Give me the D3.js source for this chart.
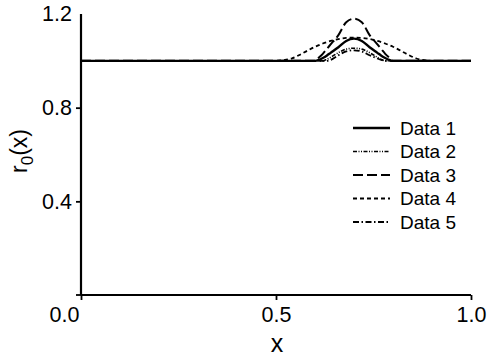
<!DOCTYPE html>
<html>
<head>
<meta charset="utf-8">
<script src="https://cdn.jsdelivr.net/npm/d3@7"></script>
<style>
  html, body { margin: 0; padding: 0; background: #fff; }
  svg { display: block; }
  text { font-family: "Liberation Sans", Arial, Helvetica, sans-serif; fill: #000; }
</style>
</head>
<body>
<svg id="chart" width="489" height="359"></svg>
<script>
// Sample positions along x shared by every profile
const xs = [0.0, 0.50, 0.52, 0.54, 0.56, 0.58, 0.60, 0.61, 0.62, 0.63, 0.64, 0.66, 0.68, 0.70,
            0.72, 0.74, 0.76, 0.77, 0.78, 0.79, 0.80, 0.82, 0.84, 0.86, 0.88, 0.90, 1.0];

// r0(x) profiles
const data1 = [1.0, 1.0, 1.0, 1.0, 1.0, 1.0, 1.0, 1.004, 1.012, 1.022, 1.034, 1.058, 1.085, 1.095,
               1.085, 1.058, 1.034, 1.022, 1.012, 1.004, 1.0, 1.0, 1.0, 1.0, 1.0, 1.0, 1.0];
const data2 = [1.0, 1.0, 1.0, 1.0, 1.0, 1.0, 1.0, 1.0, 1.0, 1.006, 1.015, 1.035, 1.05, 1.054,
               1.05, 1.035, 1.015, 1.006, 1.0, 1.0, 1.0, 1.0, 1.0, 1.0, 1.0, 1.0, 1.0];
const data3 = [1.0, 1.0, 1.0, 1.0, 1.0, 1.0, 1.0, 1.014, 1.03, 1.05, 1.07, 1.11, 1.165, 1.18,
               1.165, 1.11, 1.07, 1.05, 1.03, 1.014, 1.0, 1.0, 1.0, 1.0, 1.0, 1.0, 1.0];
const data4 = [1.0, 1.0, 1.003, 1.01, 1.025, 1.043, 1.06, 1.067, 1.074, 1.08, 1.085, 1.093, 1.098, 1.099,
               1.098, 1.093, 1.085, 1.08, 1.074, 1.067, 1.06, 1.043, 1.025, 1.01, 1.003, 1.0, 1.0];
const data5 = [1.0, 1.0, 1.0, 1.0, 1.0, 1.0, 1.0, 1.0, 1.0, 1.0, 1.004, 1.024, 1.04, 1.045,
               1.04, 1.024, 1.01, 1.004, 1.0, 1.0, 1.0, 1.0, 1.0, 1.0, 1.0, 1.0, 1.0];

const seriesNames = ["Data 1", "Data 2", "Data 3", "Data 4", "Data 5"];
const seriesValues = [data1, data2, data3, data4, data5];
const dashes = ["none", "4,1.5,1,1.5,1,1.5", "10,4", "4,3", "6,2.5,1.5,2.5"];
const widths = [2.4, 1.6, 2, 1.8, 1.8];

const xTicks = [0, 0.5, 1.0];
const yTicks = [0.4, 0.8, 1.2];

const svg = d3.select("#chart");
const x = d3.scaleLinear().domain([0, 1]).range([81, 471]);
const y = d3.scaleLinear().domain([0, 1.2]).range([295, 14]);

// Axes
const xAxis = svg.append("g").attr("transform", `translate(0,${y(0)})`)
  .call(d3.axisBottom(x).tickValues(xTicks).tickSize(5).tickFormat(d3.format(".1f")));
const yAxis = svg.append("g").attr("transform", `translate(${x(0)},0)`)
  .call(d3.axisLeft(y).tickValues(yTicks).tickSize(5).tickFormat(d3.format(".1f")));

[xAxis, yAxis].forEach(g => {
  g.select(".domain").attr("stroke", "#000").attr("stroke-width", 2.2);
  g.selectAll(".tick line").attr("stroke", "#000").attr("stroke-width", 1.8);
  g.selectAll(".tick text").style("font-size", "21.5px")
    .style("font-family", "'Liberation Sans', Arial, sans-serif").attr("fill", "#000");
});
// Plain axis ends: no outer ticks
xAxis.select(".domain").attr("d", `M${x(0)},0H${x(1)}`);
yAxis.select(".domain").attr("d", `M0,${y(0)}V${y(1.2)}`);
xAxis.selectAll(".tick text").attr("dy", "0.9em");
// origin label sits left of the corner
xAxis.selectAll(".tick").filter(d => d === 0).select("text")
  .attr("text-anchor", "end").attr("x", -2);
yAxis.selectAll(".tick text").attr("x", -9);
yAxis.selectAll(".tick").filter(d => d === 1.2).select("line").remove();
// small left tick at the origin
svg.append("line").attr("x1", x(0) - 5).attr("x2", x(0)).attr("y1", y(0)).attr("y2", y(0))
  .attr("stroke", "#000").attr("stroke-width", 1.8);

// Axis titles
svg.append("text").attr("x", 277).attr("y", 352).attr("text-anchor", "middle")
  .style("font-size", "25px").text("x");
const yt = svg.append("text")
  .attr("transform", "translate(27,151) rotate(-90)")
  .attr("text-anchor", "middle").style("font-size", "23px");
yt.append("tspan").text("r");
yt.append("tspan").attr("dy", 6).style("font-size", "17px").text("0");
yt.append("tspan").attr("dy", -6).text("(x)");

// Profiles
const line = d3.line().x((d, i) => x(xs[i])).y(d => y(d)).curve(d3.curveMonotoneX);
const order = [3, 2, 4, 1, 0];
order.forEach(k => {
  svg.append("path").datum(seriesValues[k])
    .attr("d", line)
    .attr("fill", "none").attr("stroke", "#000")
    .attr("stroke-width", widths[k])
    .attr("stroke-dasharray", dashes[k]);
});

// Legend
const leg = svg.append("g");
seriesNames.forEach((name, k) => {
  const ly = 128 + k * 23.5;
  leg.append("line").attr("x1", 353).attr("x2", 390).attr("y1", ly).attr("y2", ly)
    .attr("stroke", "#000").attr("stroke-width", widths[k])
    .attr("stroke-dasharray", dashes[k]);
  leg.append("text").attr("x", 400).attr("y", ly).attr("dy", "0.36em")
    .style("font-size", "19px").text(name);
});
</script>
</body>
</html>
